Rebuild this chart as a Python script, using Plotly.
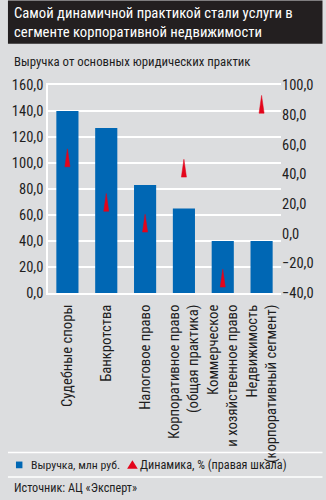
import plotly.graph_objects as go

# Revenue by practice area and its year-on-year change
categories = [
    "Судебные споры",
    "Банкротства",
    "Налоговое право",
    "Корпоративное право<br>(общая практика)",
    "Коммерческое<br>и хозяйственное право",
    "Недвижимость<br>(корпоративный сегмент)",
]
revenue = [140.0, 127.0, 83.0, 65.0, 40.0, 40.0]        # млн руб., left axis
growth = [51.0, 21.0, 7.0, 44.0, -30.0, 87.0]           # %, right axis

left_ticks = [0, 20, 40, 60, 80, 100, 120, 140, 160]
right_ticks = [-40, -20, 0, 20, 40, 60, 80, 100]

title_lines = ["Самой динамичной практикой стали услуги в",
               "сегменте корпоративной недвижимости"]
subtitle = "Выручка от основных юридических практик"
revenue_name = "Выручка, млн руб."
growth_name = "Динамика, % (правая шкала)"
source = "Источник: АЦ «Эксперт»"

W, H = 326, 500
ML, MR, MT, MB = 41.5, 43, 84.7, 207

BG = "#dcdddf"
BLUE = "#0067b4"
RED = "#e3051b"
DARK = "#231f20"
TEXT = "#1e1e1e"
FONT = "Roboto Condensed, Fira Sans Condensed, Open Sans Condensed, DejaVu Sans Condensed, sans-serif"


def px_x(p):
    return (p - ML) / (W - ML - MR)


def px_y(p):
    return (H - MB - p) / (H - MT - MB)


xs = list(range(len(categories)))

fig = go.Figure()

fig.add_trace(go.Bar(
    x=xs, y=revenue, name=revenue_name, marker_color=BLUE,
    marker_line_width=0, showlegend=False, yaxis="y",
))

# slim spike triangles for the growth series, centred on each value
half_w, half_h = 0.065, 6.0
tx, ty = [], []
for i, v in zip(xs, growth):
    tx += [i - half_w, i, i + half_w, i - half_w, None]
    ty += [v - half_h, v + half_h, v - half_h, v - half_h, None]
fig.add_trace(go.Scatter(
    x=tx, y=ty, mode="lines", fill="toself", fillcolor=RED,
    line=dict(color=RED, width=0.5), name=growth_name,
    showlegend=False, yaxis="y2", hoverinfo="skip",
))

shapes = [
    # dark header band
    dict(type="rect", xref="paper", yref="paper",
         x0=px_x(0), x1=px_x(W), y0=px_y(43.5), y1=px_y(0),
         fillcolor=DARK, line_width=0, layer="below"),
    # separators around the legend row
    dict(type="line", xref="paper", yref="paper",
         x0=px_x(0), x1=px_x(W), y0=px_y(452.7), y1=px_y(452.7),
         line=dict(color="white", width=1.5)),
    dict(type="line", xref="paper", yref="paper",
         x0=px_x(0), x1=px_x(W), y0=px_y(477.3), y1=px_y(477.3),
         line=dict(color="white", width=1.5)),
    # legend keys
    dict(type="rect", xref="paper", yref="paper",
         x0=px_x(8.3), x1=px_x(15), y0=px_y(468.5), y1=px_y(461.8),
         fillcolor=BLUE, line_width=0),
    dict(type="path", xref="paper", yref="paper",
         path="M {:.4f},{:.4f} L {:.4f},{:.4f} L {:.4f},{:.4f} Z".format(
             px_x(123.5), px_y(469), px_x(129), px_y(460.5),
             px_x(134.5), px_y(469)),
         fillcolor=RED, line_width=0),
]

annotations = [
    dict(text=title_lines[0], x=px_x(4), y=px_y(12.5), xref="paper", yref="paper",
         xanchor="left", yanchor="middle", showarrow=False,
         font=dict(family=FONT, size=14.7, color="white")),
    dict(text=title_lines[1], x=px_x(4), y=px_y(31.5), xref="paper", yref="paper",
         xanchor="left", yanchor="middle", showarrow=False,
         font=dict(family=FONT, size=14.7, color="white")),
    dict(text=subtitle, x=px_x(4), y=px_y(61), xref="paper", yref="paper",
         xanchor="left", yanchor="middle", showarrow=False,
         font=dict(family=FONT, size=12.8, color=TEXT)),
    dict(text=revenue_name, x=px_x(21.5), y=px_y(465), xref="paper", yref="paper",
         xanchor="left", yanchor="middle", showarrow=False,
         font=dict(family=FONT, size=11.8, color=TEXT)),
    dict(text=growth_name, x=px_x(135), y=px_y(465), xref="paper", yref="paper",
         xanchor="left", yanchor="middle", showarrow=False,
         font=dict(family=FONT, size=12.2, color=TEXT)),
    dict(text=source, x=px_x(4), y=px_y(488.5), xref="paper", yref="paper",
         xanchor="left", yanchor="middle", showarrow=False,
         font=dict(family=FONT, size=12.2, color=TEXT)),
]

fig.update_layout(
    width=W, height=H,
    margin=dict(l=ML, r=MR, t=MT, b=MB, pad=0),
    paper_bgcolor=BG, plot_bgcolor=BG,
    separators=", ",
    bargap=0.43,
    showlegend=False,
    font=dict(family=FONT, size=14, color=TEXT),
    xaxis=dict(
        range=[-0.5, len(categories) - 0.5],
        tickmode="array", tickvals=xs, ticktext=categories,
        tickangle=-90, tickfont=dict(size=14.7, color=TEXT),
        ticklabelstandoff=4,
        showgrid=False, zeroline=False,
        showline=True, linecolor="white", linewidth=1.5, mirror=True,
        ticks="", fixedrange=True,
    ),
    yaxis=dict(
        range=[0, 160], tickmode="array", tickvals=left_ticks,
        tickformat=".1f", tickfont=dict(size=14.5, color=TEXT),
        showgrid=True, gridcolor="white", gridwidth=1.5,
        zeroline=False, showline=True, linecolor="white", linewidth=1.5,
        ticks="", fixedrange=True,
    ),
    yaxis2=dict(
        range=[-40, 100], tickmode="array", tickvals=right_ticks,
        tickformat=".1f", tickfont=dict(size=14.5, color=TEXT),
        overlaying="y", side="right", showgrid=False, zeroline=False,
        showline=False, ticks="", fixedrange=True,
    ),
    shapes=shapes,
    annotations=annotations,
)

fig.write_html("out.html")
